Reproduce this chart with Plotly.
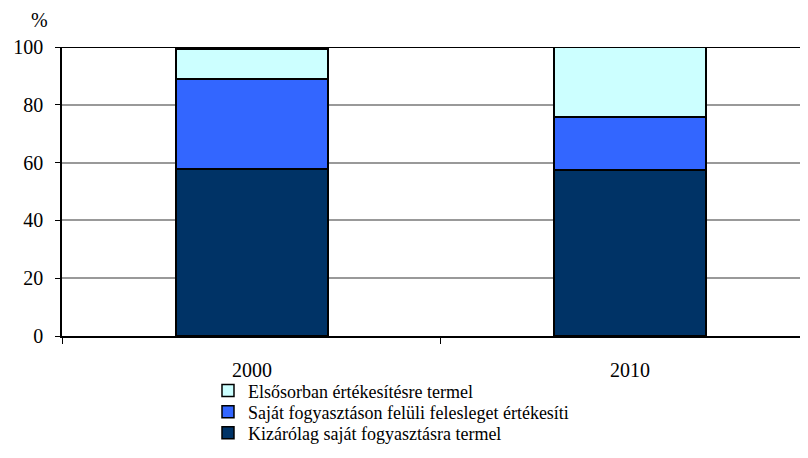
import plotly.graph_objects as go

years = ["2000", "2010"]
kizarolag = [57.8, 57.4]
felesleg = [31.1, 18.4]
elsosorban = [10.4, 24.2]

names = [
    "Kizárólag saját fogyasztásra termel",
    "Saját fogyasztáson felüli felesleget értékesíti",
    "Elsősorban értékesítésre termel",
]
colors = ["#003366", "#3366FF", "#CCFFFF"]

serif = "Liberation Serif, Times New Roman, DejaVu Serif, serif"

# one legend box per row so the rows sit as close as in the original
legend_ids = ["legend3", "legend2", "legend"]
legend_y = [-0.336, -0.263, -0.190]

fig = go.Figure()
for vals, name, col, lid in zip([kizarolag, felesleg, elsosorban], names, colors, legend_ids):
    fig.add_trace(go.Bar(
        x=years, y=vals, name=name, width=0.402, legend=lid,
        marker=dict(color=col, line=dict(color="black", width=1.5)),
    ))

leg = dict(x=0.1957, xanchor="left", yanchor="middle", bgcolor="rgba(0,0,0,0)",
           font=dict(family=serif, size=18), itemwidth=30)

fig.update_layout(
    width=800, height=450,
    barmode="stack",
    plot_bgcolor="white", paper_bgcolor="white",
    margin=dict(l=54, r=0, t=39, b=122),
    font=dict(family=serif, size=18, color="black"),
    legend=dict(leg, y=legend_y[2]),
    legend2=dict(leg, y=legend_y[1]),
    legend3=dict(leg, y=legend_y[0]),
    showlegend=True,
    xaxis=dict(type="category", range=[-0.5026, 1.471], tickson="boundaries",
               ticks="outside", ticklen=6, tickcolor="black",
               showline=True, linecolor="black", linewidth=1.5,
               showgrid=False, tickfont=dict(family=serif, size=20),
               ticklabelstandoff=15),
    yaxis=dict(range=[0, 100], tickvals=[0, 20, 40, 60, 80, 100],
               ticks="outside", ticklen=5, tickcolor="black",
               showline=True, linecolor="black", linewidth=1.5,
               showgrid=True, gridcolor="#999999", gridwidth=1.5,
               zeroline=False, tickfont=dict(family=serif, size=20),
               ticklabelstandoff=8),
)
fig.add_shape(type="line", xref="paper", yref="y", x0=0, x1=1, y0=100, y1=100,
              line=dict(color="black", width=2), layer="below")
fig.add_annotation(text="%", xref="paper", yref="paper", x=-0.030, y=1.0,
                   yshift=14, showarrow=False, xanchor="center", yanchor="bottom",
                   font=dict(family=serif, size=20))

fig.write_html("out.html")
